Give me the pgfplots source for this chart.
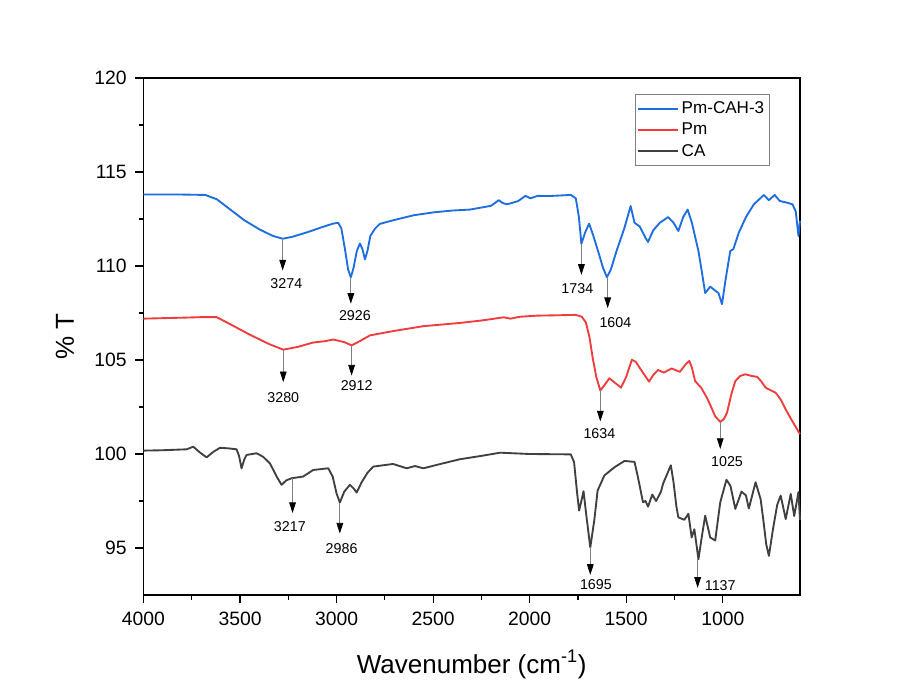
\documentclass[border=0pt]{standalone}
\usepackage{fontspec}
\setmainfont{Liberation Sans}
\usepackage{pgfplots}
\pgfplotsset{compat=1.18}
\usetikzlibrary{arrows.meta,calc}
\definecolor{cblue}{RGB}{30,110,225}
\definecolor{cred}{RGB}{240,60,60}
\definecolor{cdark}{RGB}{64,64,64}
\begin{document}
\begin{tikzpicture}
\begin{axis}[
  scale only axis,
  width=492.4pt, height=387.75pt,
  x dir=reverse,
  xmin=600, xmax=4000, ymin=92.5, ymax=120,
  xtick={1000,1500,2000,2500,3000,3500,4000},
  ytick={95,100,105,110,115,120},
  minor x tick num=1, minor y tick num=1,
  xtick pos=lower, ytick pos=left,
  tick align=outside,
  major tick length=6pt, minor tick length=3.5pt,
  every tick/.style={black, line width=0.9pt},
  axis line style={line width=0.9pt},
  /pgf/number format/assume math mode=true,
  /pgf/number format/1000 sep={},
  tick label style={font=\fontsize{14.5}{16}\selectfont},
  xticklabel style={yshift=-3pt},
  yticklabel style={xshift=-3pt},
  xlabel={Wavenumber (cm\textsuperscript{-1})},
  ylabel={\% T},
  label style={font=\fontsize{19.5}{22}\selectfont},
  xlabel style={at={(rel axis cs:0.5,0)}, anchor=base, yshift=-58.5pt},
  ylabel style={at={(rel axis cs:0,0.5)}, anchor=center, xshift=0pt, yshift=58.9pt},
  clip=false,
  legend style={at={(rel axis cs:0.953,0.969)}, anchor=north east,
    draw=gray, font=\fontsize{12.8}{14}\selectfont,
    inner ysep=3.5pt, inner xsep=1.5pt, row sep=1.6pt, cells={anchor=west}},
  legend image code/.code={\draw[#1, line width=1.5pt] (0pt,0pt) -- (30pt,0pt);},
  every axis plot/.append style={line width=1.4pt, line join=round},
]
\addplot[cblue] coordinates {
(4000,113.80) (3800,113.80) (3680,113.78) (3620,113.55) (3550,113.0) (3480,112.45)
(3400,111.95) (3330,111.6) (3279,111.45) (3230,111.55) (3150,111.8) (3080,112.05)
(3020,112.25) (2992,112.3) (2975,112.0) (2955,110.8) (2940,109.8) (2926,109.4)
(2912,109.9) (2895,110.8) (2879,111.2) (2866,110.9) (2853,110.35) (2840,110.8)
(2825,111.6) (2800,112.0) (2776,112.24) (2700,112.45) (2600,112.7) (2500,112.85)
(2400,112.95) (2310,113.0) (2200,113.2) (2160,113.5) (2140,113.35) (2118,113.28)
(2060,113.45) (2022,113.73) (1996,113.6) (1959,113.73) (1900,113.72) (1787,113.78)
(1761,113.6) (1745,112.6) (1732,111.18) (1712,111.8) (1692,112.25) (1670,111.6)
(1640,110.6) (1620,109.9) (1600,109.4) (1580,109.8) (1550,110.8) (1510,112.0)
(1477,113.19) (1457,112.3) (1430,112.1) (1400,111.5) (1387,111.28) (1360,111.9)
(1326,112.3) (1283,112.6) (1255,112.3) (1230,111.86) (1205,112.6) (1182,113.0)
(1160,112.3) (1126,110.8) (1110,109.8) (1091,108.56) (1065,108.9) (1040,108.7)
(1022,108.56) (1004,107.97) (985,109.3) (961,110.8) (945,110.9) (917,111.77)
(880,112.6) (839,113.28) (787,113.78) (761,113.5) (731,113.78) (705,113.46)
(660,113.35) (639,113.28) (622,112.9) (608,111.6) (600,112.4)
};
\addlegendentry{Pm-CAH-3}
\addplot[cred] coordinates {
(4000,107.2) (3800,107.25) (3700,107.28) (3621,107.28) (3550,106.9) (3450,106.35)
(3350,105.85) (3276,105.55) (3200,105.7) (3121,105.93) (3060,106.0) (3017,106.09)
(2960,105.95) (2922,105.78) (2880,106.0) (2827,106.31) (2700,106.55) (2550,106.8)
(2362,106.97) (2250,107.1) (2135,107.27) (2100,107.2) (2050,107.3) (1961,107.36)
(1850,107.38) (1761,107.4) (1730,107.3) (1709,107.0) (1690,106.2) (1674,105.14)
(1655,104.1) (1634,103.38) (1610,103.7) (1587,104.03) (1560,103.8) (1527,103.53)
(1500,104.1) (1471,105.01) (1450,104.9) (1431,104.6) (1405,104.2) (1382,103.85)
(1360,104.2) (1335,104.47) (1305,104.33) (1265,104.55) (1222,104.37) (1190,104.8)
(1173,104.95) (1160,104.6) (1143,103.88) (1110,103.5) (1082,102.99) (1060,102.5)
(1039,102.0) (1013,101.71) (995,101.85) (978,102.19) (955,103.2) (935,103.88)
(910,104.15) (883,104.24) (850,104.15) (821,104.1) (800,103.85) (778,103.53)
(750,103.38) (726,103.26) (700,102.9) (674,102.37) (640,101.75) (600,101.05)
};
\addlegendentry{Pm}
\addplot[cdark] coordinates {
(4000,100.18) (3900,100.2) (3776,100.25) (3742,100.39) (3710,100.1) (3673,99.82)
(3640,100.1) (3604,100.33) (3560,100.3) (3518,100.25) (3505,99.9) (3492,99.24)
(3478,99.7) (3466,99.95) (3414,100.04) (3380,99.85) (3345,99.5) (3310,98.8)
(3285,98.36) (3260,98.6) (3233,98.71) (3173,98.8) (3121,99.15) (3043,99.24)
(3020,98.8) (3000,97.9) (2983,97.42) (2960,98.0) (2931,98.36) (2910,98.15)
(2896,97.95) (2870,98.5) (2840,99.0) (2810,99.33) (2707,99.47) (2637,99.24)
(2594,99.36) (2551,99.24) (2450,99.5) (2362,99.72) (2250,99.9) (2153,100.07)
(2000,100.0) (1787,99.98) (1770,99.57) (1755,98.0) (1744,96.99) (1730,97.6)
(1721,98.02) (1705,96.6) (1686,95.03) (1665,96.5) (1648,98.06) (1613,98.86)
(1560,99.3) (1509,99.63) (1457,99.58) (1440,98.8) (1413,97.43) (1400,97.5)
(1387,97.2) (1365,97.84) (1345,97.5) (1320,98.0) (1309,98.42) (1269,99.4)
(1255,98.5) (1240,97.2) (1230,96.63) (1199,96.5) (1178,96.82) (1161,95.56)
(1147,96.0) (1126,94.4) (1110,95.5) (1091,96.72) (1065,95.56) (1039,95.4)
(1025,96.5) (1013,97.43) (981,98.63) (960,98.3) (935,97.08) (903,98.0)
(880,97.8) (865,97.1) (830,98.5) (804,97.6) (790,96.5) (775,95.2)
(761,94.58) (740,96.0) (718,97.3) (700,97.79) (674,96.54) (648,97.88)
(630,96.7) (608,97.97) (600,96.5)
};
\addlegendentry{CA}
% annotations
\tikzset{ann/.style={gray, line width=0.6pt, -{Triangle[length=8pt,width=5pt,color=black]}},
  lab/.style={font=\fontsize{10.7}{12}\selectfont, inner sep=0pt}}
\draw[ann] (axis cs:3279,111.4) -- (axis cs:3279,109.76);
\node[lab] at (axis cs:3260,109.06) {3274};
\draw[ann] (axis cs:2926,109.4) -- (axis cs:2926,107.99);
\node[lab] at (axis cs:2905,107.36) {2926};
\draw[ann] (axis cs:1732,111.18) -- (axis cs:1732,109.53);
\node[lab] at (axis cs:1753,108.82) {1734};
\draw[ann] (axis cs:1596,109.4) -- (axis cs:1596,107.76);
\node[lab] at (axis cs:1556,107.0) {1604};
\draw[ann] (axis cs:3276,105.52) -- (axis cs:3276,103.82);
\node[lab] at (axis cs:3276,103.02) {3280};
\draw[ann] (axis cs:2922,105.78) -- (axis cs:2922,104.17);
\node[lab] at (axis cs:2896,103.64) {2912};
\draw[ann] (axis cs:1634,103.38) -- (axis cs:1634,101.73);
\node[lab] at (axis cs:1639,101.08) {1634};
\draw[ann] (axis cs:1013,101.71) -- (axis cs:1013,100.27);
\node[lab] at (axis cs:978,99.58) {1025};
\draw[ann] (axis cs:3228,98.71) -- (axis cs:3228,96.86);
\node[lab] at (axis cs:3242,96.12) {3217};
\draw[ann] (axis cs:2983,97.42) -- (axis cs:2983,95.77);
\node[lab] at (axis cs:2974,94.97) {2986};
\draw[ann] (axis cs:1686,95.03) -- (axis cs:1686,93.57);
\node[lab] at (axis cs:1657,93.04) {1695};
\draw[ann] (axis cs:1130,94.4) -- (axis cs:1130,92.88);
\node[lab] at (axis cs:1013,93.0) {1137};
\end{axis}
\pgfresetboundingbox
\path ($(current axis.south west)+(-107.6pt,-69.75pt)$) rectangle ($(current axis.north east)+(83.25pt,58.5pt)$);
\end{tikzpicture}
\end{document}
